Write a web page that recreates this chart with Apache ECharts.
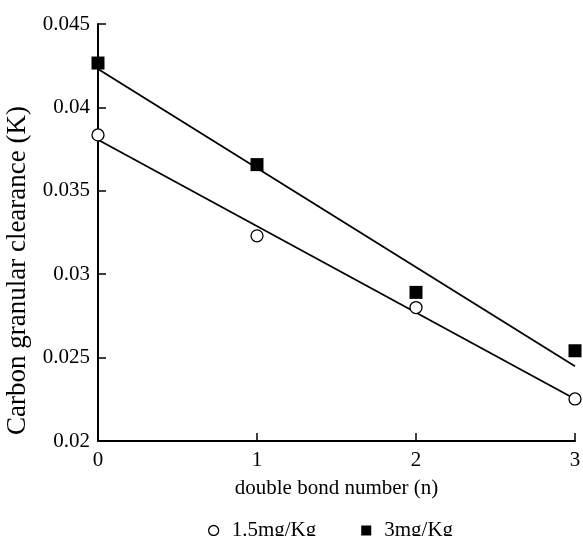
<!DOCTYPE html>
<html>
<head>
<meta charset="utf-8">
<script src="https://cdn.jsdelivr.net/npm/echarts@6/dist/echarts.min.js"></script>
<style>html,body{margin:0;padding:0;background:#fff;}#c{width:583px;height:536px;}</style>
</head>
<body>
<div id="c"></div>
<script>
var xValues = [0, 1, 2, 3];
var lowDose = [0.03835, 0.0323, 0.0280, 0.02252];
var highDose = [0.04266, 0.03657, 0.02891, 0.02541];
var lowFitEnds = [0.03806, 0.02252];
var highFitEnds = [0.04230, 0.02448];
var fitX = [0, 3];
var seriesNames = ['1.5mg/Kg', '3mg/Kg'];
var xTitle = 'double bond number (n)';
var yTitle = 'Carbon granular clearance (K)';

function pairs(xs, ys) { return xs.map(function (x, i) { return [x, ys[i]]; }); }

var font = 'Liberation Serif, Times New Roman, serif';
var chart = echarts.init(document.getElementById('c'), null, {renderer: 'canvas'});
chart.setOption({
  animation: false,
  backgroundColor: '#fff',
  grid: {left: 98, right: 8, top: 24, bottom: 95, containLabel: false, outerBoundsMode: 'none'},
  legend: {
    left: 203, top: 515, itemGap: 45, itemWidth: 26, itemHeight: 10, symbolKeepAspect: true,
    textStyle: {fontFamily: font, fontSize: 21, color: '#000'},
    data: [
      {name: seriesNames[0], icon: 'circle', itemStyle: {color: '#fff', borderColor: '#000', borderWidth: 1.3, opacity: 1}},
      {name: seriesNames[1], icon: 'path://M0,0L10,0L10,10L0,10Z', itemStyle: {color: '#000', opacity: 1}}
    ]
  },
  xAxis: {
    type: 'value', min: 0, max: 3, interval: 1,
    name: xTitle, nameLocation: 'middle', nameGap: 37,
    nameTextStyle: {fontFamily: font, fontSize: 21, color: '#000'},
    axisLine: {lineStyle: {color: '#000', width: 2}},
    axisTick: {inside: true, length: 8, lineStyle: {color: '#000', width: 1.5}},
    axisLabel: {fontFamily: font, fontSize: 21, color: '#000', margin: 9},
    splitLine: {show: false}
  },
  yAxis: {
    type: 'value', min: 0.02, max: 0.045, interval: 0.005,
    name: yTitle, nameLocation: 'middle', nameGap: 67,
    nameTextStyle: {fontFamily: font, fontSize: 27, color: '#000', padding: [0, 76, 0, 0]},
    axisLine: {lineStyle: {color: '#000', width: 2}},
    axisTick: {inside: true, length: 8, lineStyle: {color: '#000', width: 1.5}},
    axisLabel: {fontFamily: font, fontSize: 21, color: '#000', margin: 8,
      formatter: function (v) { return String(+v.toFixed(3)); }},
    splitLine: {show: false}
  },
  series: [
    {name: seriesNames[0] + ' fit', type: 'line', data: pairs(fitX, lowFitEnds), symbol: 'none',
      lineStyle: {color: '#000', width: 1.8}, silent: true, z: 1},
    {name: seriesNames[1] + ' fit', type: 'line', data: pairs(fitX, highFitEnds), symbol: 'none',
      lineStyle: {color: '#000', width: 1.8}, silent: true, z: 1},
    {name: seriesNames[0], type: 'scatter', data: pairs(xValues, lowDose), symbol: 'circle', symbolSize: 12,
      itemStyle: {color: '#fff', borderColor: '#000', borderWidth: 1.3, opacity: 1}, z: 3},
    {name: seriesNames[1], type: 'scatter', data: pairs(xValues, highDose), symbol: 'rect', symbolSize: 13,
      itemStyle: {color: '#000', opacity: 1}, z: 3}
  ]
});
</script>
</body>
</html>
